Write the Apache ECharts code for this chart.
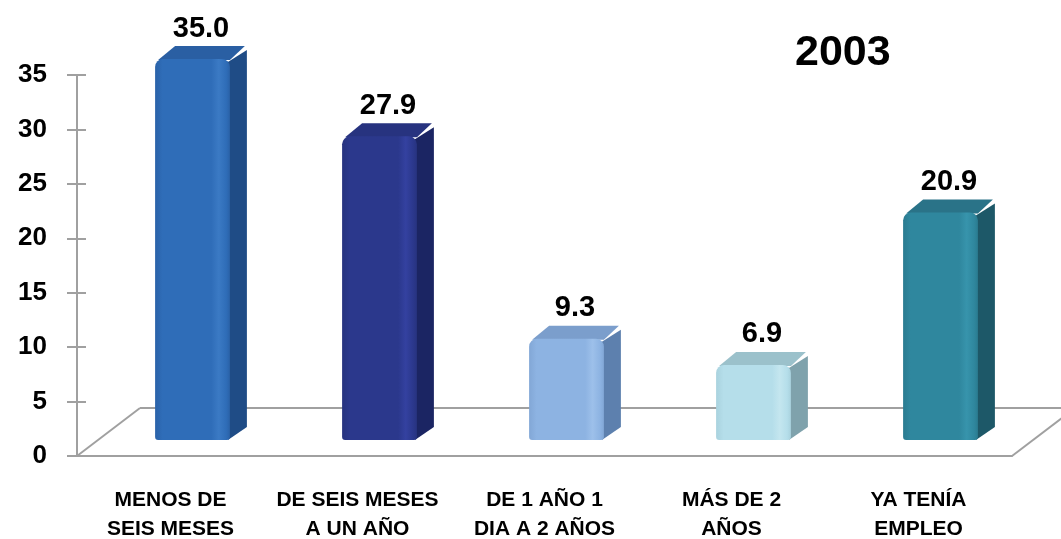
<!DOCTYPE html>
<html>
<head>
<meta charset="utf-8">
<script src="https://cdn.jsdelivr.net/npm/echarts@6/dist/echarts.min.js"></script>
<style>
html,body{margin:0;padding:0;background:#fff;}
#chart{width:1061px;height:539px;}
</style>
</head>
<body>
<div id="chart"></div>
<script>
// ---- data ----
const categories = [
  'MENOS DE\nSEIS MESES',
  'DE SEIS MESES\nA UN AÑO',
  'DE 1 AÑO 1\nDIA A 2 AÑOS',
  'MÁS DE 2\nAÑOS',
  'YA TENÍA\nEMPLEO'
];
const values = [35.0, 27.9, 9.3, 6.9, 20.9];
const yTicks = [0, 5, 10, 15, 20, 25, 30, 35];
const titleText = '2003';

// ---- styles ----
const palette = [
  {front:'#2F6DB8', light:'#3B7AC4', dark:'#2A62A8', side:'#1F4C86', top:'#2A5FA3'},
  {front:'#2B388C', light:'#3441A0', dark:'#27337F', side:'#1B2563', top:'#27337F'},
  {front:'#8DB3E2', light:'#9DC0EA', dark:'#82A7D6', side:'#5D80AE', top:'#7B9ECC'},
  {front:'#B5DEEA', light:'#C4E6EF', dark:'#A9D2DE', side:'#7FA2AC', top:'#9BC1CB'},
  {front:'#2F879E', light:'#3794AC', dark:'#2A7B90', side:'#1D5868', top:'#2A7388'}
];
const axisGrey = '#A0A0A0';
const FLOOR_DX = 63, FLOOR_DY = 48;    // floor depth
const BAR_OX = 22, BAR_OY = 16;        // bar position within floor depth
const SIDE_DX = 17, SIDE_DY = 13;      // bar depth
const BAR_FRAC = 0.4;
const FONT = '"Liberation Sans", Arial, sans-serif';

const chart = echarts.init(document.getElementById('chart'), null, {renderer:'canvas'});

function renderFloor(params, api) {
  const bw = api.size([1, 0])[0];
  const p0 = api.coord([0, 0]);
  const pN = api.coord([categories.length - 1, 0]);
  const L = p0[0] - bw / 2, R = pN[0] + bw / 2, Y = p0[1];
  const st = {stroke: axisGrey, lineWidth: 2, fill: null};
  return {
    type: 'group',
    children: [
      {type:'line', shape:{x1:L, y1:Y, x2:L+FLOOR_DX, y2:Y-FLOOR_DY}, style:st},
      {type:'line', shape:{x1:L+FLOOR_DX, y1:Y-FLOOR_DY, x2:R+FLOOR_DX, y2:Y-FLOOR_DY}, style:st},
      {type:'line', shape:{x1:R, y1:Y, x2:R+FLOOR_DX, y2:Y-FLOOR_DY}, style:st}
    ]
  };
}

function renderBar(params, api) {
  const idx = api.value(0);
  const v = api.value(1);
  const top = api.coord([idx, v]);
  const base = api.coord([idx, 0]);
  const bw = api.size([1, 0])[0];
  const w = bw * BAR_FRAC;
  const h = base[1] - top[1];
  const x0 = base[0] + BAR_OX - w / 2;
  const x1 = x0 + w;
  const yb = base[1] - BAR_OY;
  const yt = yb - h;
  const c = palette[idx % palette.length];
  const frontFill = new echarts.graphic.LinearGradient(0, 0, 1, 0, [
    {offset:0, color:c.dark}, {offset:0.1, color:c.front},
    {offset:0.75, color:c.front}, {offset:0.85, color:c.light},
    {offset:0.95, color:c.front}, {offset:1, color:c.dark}
  ]);
  return {
    type: 'group',
    children: [
      {type:'polygon', shape:{points:[[x1-2,yb],[x1-2,yt+3],[x1+SIDE_DX,yt-SIDE_DY+4],[x1+SIDE_DX,yb-SIDE_DY]]},
        style:{fill:c.side}},
      {type:'polygon', shape:{points:[[x0+3,yt+1],[x1,yt+1],[x1+SIDE_DX-2,yt-SIDE_DY],[x0+SIDE_DX+3,yt-SIDE_DY]]},
        style:{fill:c.top}},
      {type:'rect', shape:{x:x0, y:yt, width:w, height:h, r:[8,8,3,3]},
        style:{fill:frontFill}},
      {type:'text', style:{
        text: v.toFixed(1), x: (x0 + x1) / 2 + SIDE_DX / 2, y: yt - SIDE_DY - 3,
        align:'center', verticalAlign:'bottom',
        font:'bold 29px ' + FONT, fill:'#000'
      }}
    ]
  };
}

chart.setOption({
  animation: false,
  backgroundColor: '#fff',
  title: {
    text: titleText, left: 790, top: 27,
    textStyle:{fontFamily:FONT, fontWeight:'bold', fontSize:43, color:'#000'}
  },
  grid: {left: 77, right: 49, top: 75, bottom: 83, containLabel: false, outerBoundsMode: 'none'},
  xAxis: {
    type: 'category', data: categories,
    axisLine: {lineStyle:{color: axisGrey, width: 2}},
    axisTick: {show: false},
    axisLabel: {
      interval: 0, margin: 30, lineHeight: 29,
      fontFamily:FONT, fontWeight:'bold', fontSize:21, color:'#000'
    }
  },
  yAxis: [{
    type: 'value', min: yTicks[0], max: yTicks[yTicks.length-1], interval: yTicks[1]-yTicks[0],
    axisLine: {show:true, lineStyle:{color: axisGrey, width: 2}},
    axisTick: {show:true, length: 10, lineStyle:{color: axisGrey, width: 2}},
    splitLine: {show:false},
    axisLabel: {margin: 30, fontFamily:FONT, fontWeight:'bold', fontSize:26, color:'#000'}
  }, {
    type: 'value', position: 'left', min: yTicks[0], max: yTicks[yTicks.length-1], interval: yTicks[1]-yTicks[0],
    axisLine: {show:false},
    axisTick: {show:true, inside:true, length: 9, lineStyle:{color: axisGrey, width: 2}},
    splitLine: {show:false},
    axisLabel: {show:false}
  }],
  series: [
    {type:'custom', name:'floor', renderItem: renderFloor, data:[[0, 0]], z: 1, clip:false, silent:true},
    {type:'custom', name:'bars', renderItem: renderBar,
     data: values.map((v, i) => [i, v]), z: 2, clip:false}
  ]
});
</script>
</body>
</html>
